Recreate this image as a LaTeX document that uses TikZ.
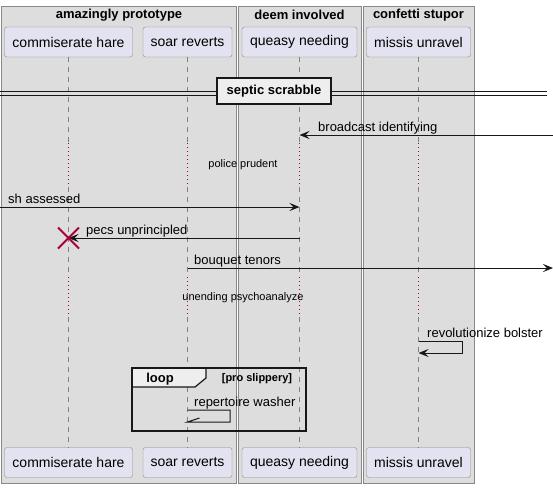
\documentclass[tikz,border=0pt]{standalone}
\usepackage{fontspec}
\setmainfont{Liberation Sans}
\usetikzlibrary{arrows.meta,shapes.misc}
\definecolor{grpbg}{HTML}{DDDDDD}
\definecolor{grpbd}{HTML}{888888}
\definecolor{partbg}{HTML}{E2E2F0}
\definecolor{partbd}{HTML}{8A8A8A}
\definecolor{dred}{HTML}{A80036}
\definecolor{tabbg}{HTML}{EEEEEE}
\definecolor{ink}{HTML}{181818}
\begin{document}
\begin{tikzpicture}[x=1pt,y=-1pt,
  part/.style={draw=partbd, fill=partbg, rounded corners=2.5pt, minimum height=30pt, inner sep=0pt, font=\fontsize{14}{16}\selectfont},
  grp/.style={draw=grpbd, fill=grpbg},
  grptitle/.style={font=\fontsize{13}{15}\selectfont\bfseries, inner sep=0pt},
  msg/.style={font=\fontsize{13}{15}\selectfont, anchor=base west, inner sep=0pt},
  note/.style={font=\fontsize{11}{13}\selectfont, inner sep=0pt},
  arr/.style={draw=ink, line width=1pt, -{Stealth[length=10pt,width=8pt,inset=4pt]}},
  plain/.style={draw=ink, line width=1pt},
  life/.style={draw=gray, line width=0.8pt, dash pattern=on 5pt off 5pt},
  delayline/.style={draw=dred, line width=0.8pt, dash pattern=on 1pt off 3pt},
]
\useasboundingbox (0,0) rectangle (553,488);
\fill[white] (0,0) rectangle (553,488);
% groups
\draw[grp] (1.5,6) rectangle (236.5,483);
\draw[grp] (238,6) rectangle (361.5,483);
\draw[grp] (363,6) rectangle (474,483);
\node[grptitle] (g1) at (119,15) {amazingly prototype};
\node[grptitle] (g2) at (299.5,15) {deem involved};
\node[grptitle] (g3) at (418.5,15) {confetti stupor};
% participants
\node[part, minimum width=128pt] (ch) at (68.5,42) {commiserate hare};
\node[part, minimum width=89pt] (sr) at (187.5,42) {soar reverts};
\node[part, minimum width=115pt] (qn) at (299.5,42) {queasy needing};
\node[part, minimum width=104pt] (mu) at (418.5,42) {missis unravel};
\node[part, minimum width=128pt] (chb) at (68.5,462.5) {commiserate hare};
\node[part, minimum width=89pt] (srb) at (187.5,462.5) {soar reverts};
\node[part, minimum width=115pt] (qnb) at (299.5,462.5) {queasy needing};
\node[part, minimum width=104pt] (mub) at (418.5,462.5) {missis unravel};
% delay levels
\coordinate (d1a) at (0,143);
\coordinate (d1b) at (0,187);
\coordinate (d2a) at (0,277);
\coordinate (d2b) at (0,317);
\foreach \p/\q in {ch/chb,sr/srb,qn/qnb,mu/mub}{
  \draw[life] (\p.south) -- (\p.south |- d1a);
  \draw[delayline] (\p.south |- d1a) -- (\p.south |- d1b);
  \draw[life] (\p.south |- d1b) -- (\p.south |- d2a);
  \draw[delayline] (\p.south |- d2a) -- (\p.south |- d2b);
  \draw[life] (\p.south |- d2b) -- (\q.north);
}
% separator
\coordinate (sepL) at (0,92);
\coordinate (sepR) at (547,92);
\draw[ink, line width=0.9pt] (0,91.5) -- (547,91.5);
\draw[ink, line width=0.9pt] (0,95) -- (547,95);
\node[draw=ink, fill=tabbg, line width=2pt, minimum width=114pt, minimum height=26pt, inner sep=0pt, font=\fontsize{13}{15}\selectfont\bfseries] (sep) at (274,91) {septic scrabble};
% message 1
\coordinate (m1s) at (553,135);
\draw[arr] (m1s) -- (qn.south |- m1s);
\node[msg] (t1) at (318,131) {broadcast identifying};
% delay 1 text
\node[note] (n1) at (243,165) {police prudent};
% message 2
\coordinate (m2s) at (0,207);
\draw[arr] (m2s) -- (qn.south |- m2s);
\node[msg] (t2) at (8,203) {sh assessed};
% message 3 with destroy
\coordinate (m3) at (0,238);
\draw[arr] (qn.south |- m3) -- (ch.south |- m3);
\node[msg] (t3) at (86,234) {pecs unprincipled};
\node[cross out, draw=dred, line width=2pt, minimum size=19pt, inner sep=0pt] (x) at (ch.south |- m3) {};
% message 4
\coordinate (m4e) at (553,268);
\draw[arr] (sr.south |- m4e) -- (m4e);
\node[msg] (t4) at (194,264) {bouquet tenors};
% delay 2 text
\node[note] (n2) at (243,298) {unending psychoanalyze};
% message 5 self
\coordinate (m5a) at (462,341);
\coordinate (m5b) at (462,353);
\draw[arr] (mu.south |- m5a) -- (m5a) -- (m5b) -- (mu.south |- m5b);
\node[msg] (t5) at (427,337) {revolutionize bolster};
% loop frame
\filldraw[fill=tabbg, draw=ink, line width=1.2pt] (132,368) -- (206,368) -- (206,378) -- (195,387) -- (132,387) -- cycle;
\draw[ink, line width=1.6pt] (132,368) rectangle (306,431);
\node[font=\fontsize{13}{15}\selectfont\bfseries, inner sep=0pt] (lp) at (160,379) {loop};
\node[font=\fontsize{11}{13}\selectfont\bfseries, inner sep=0pt] (lc) at (257,379) {[pro slippery]};
% message 6 self
\coordinate (m6a) at (230,410);
\coordinate (m6b) at (230,422);
\draw[plain] (sr.south |- m6a) -- (m6a) -- (m6b) -- (sr.south |- m6b) -- ++(12,-4);
\node[msg] (t6) at (194,406) {repertoire washer};
\end{tikzpicture}
\end{document}
